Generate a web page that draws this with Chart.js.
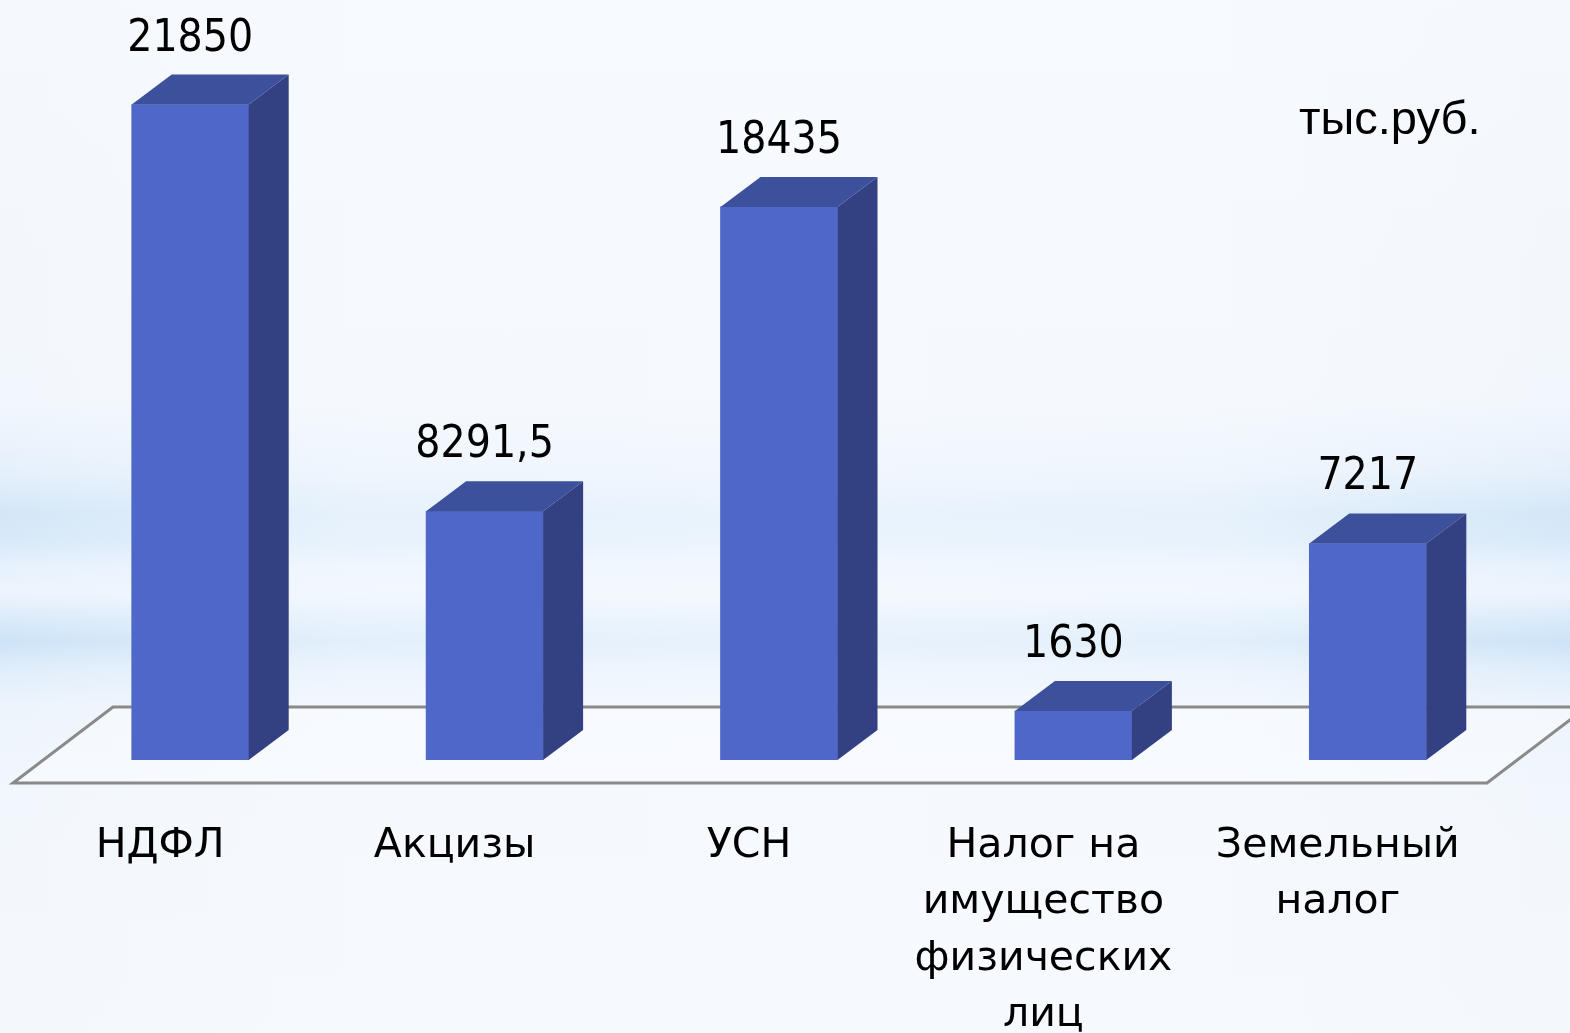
<!DOCTYPE html>
<html>
<head>
<meta charset="utf-8">
<script src="https://cdn.jsdelivr.net/npm/chart.js@4"></script>
<style>
  html, body { margin: 0; padding: 0; width: 1570px; height: 1033px; overflow: hidden; }
  body {
    background:
      linear-gradient(to right, rgba(248,251,255,0) 0%, rgba(248,251,255,0.5) 22%, rgba(248,251,255,0.62) 50%, rgba(248,251,255,0.5) 78%, rgba(248,251,255,0) 100%),
      linear-gradient(to bottom,
        #f5f8fd 0px, #f2f7fd 400px, #e6f0fb 470px, #d4e7f8 512px, #d7e9f9 540px,
        #e8f2fc 568px, #edf4fc 595px, #d9eaf9 620px, #cde3f7 642px, #e0edfa 668px,
        #edf4fc 705px, #f2f7fd 800px, #f4f8fd 1033px);
  }
  #wrap { position: absolute; left: 0; top: 0; width: 1570px; height: 1033px; }
</style>
</head>
<body>
<div id="wrap"><canvas id="c" width="1570" height="1033"></canvas></div>
<script>
const categories = ['НДФЛ', 'Акцизы', 'УСН', ['Налог на', 'имущество', 'физических', 'лиц'], ['Земельный', 'налог']];
const values = [21850, 8291.5, 18435, 1630, 7217];
const valueLabels = ['21850', '8291,5', '18435', '1630', '7217'];
const unitLabel = 'тыс.руб.';

const FRONT = '#4e67c8';
const TOP = '#3c509b';
const SIDE = '#334081';
const DX = 40, DY = 30;

const floorPlugin = {
  id: 'floor',
  beforeDatasetsDraw(chart) {
    const ctx = chart.ctx, a = chart.chartArea;
    const base = chart.scales.y.getPixelForValue(0);
    const fy = base + 23, by = base - 53;
    const fl = a.left - 30, fr = a.right - 28;
    ctx.save();
    ctx.beginPath();
    ctx.moveTo(fl, fy);
    ctx.lineTo(fr, fy);
    ctx.lineTo(fr + 100, by);
    ctx.lineTo(fl + 100, by);
    ctx.closePath();
    ctx.fillStyle = 'rgba(250,252,255,0.55)';
    ctx.fill();
    ctx.strokeStyle = '#8a8a8a';
    ctx.lineWidth = 3;
    ctx.lineJoin = 'miter';
    ctx.stroke();
    ctx.restore();
  },
  afterDatasetsDraw(chart) {
    const ctx = chart.ctx;
    const meta = chart.getDatasetMeta(0);
    ctx.save();
    meta.data.forEach((bar, i) => {
      const p = bar.getProps(['x', 'y', 'base', 'width'], true);
      const l = p.x - p.width / 2, r = p.x + p.width / 2, t = p.y, b = p.base;
      ctx.beginPath();
      ctx.moveTo(l, t); ctx.lineTo(l + DX, t - DY); ctx.lineTo(r + DX, t - DY); ctx.lineTo(r, t); ctx.closePath();
      ctx.fillStyle = TOP; ctx.fill();
      ctx.beginPath();
      ctx.moveTo(r, t); ctx.lineTo(r + DX, t - DY); ctx.lineTo(r + DX, b - DY); ctx.lineTo(r, b); ctx.closePath();
      ctx.fillStyle = SIDE; ctx.fill();
      ctx.fillStyle = '#000';
      ctx.font = '44px "DejaVu Sans Condensed", "DejaVu Sans", sans-serif';
      ctx.textAlign = 'center';
      ctx.textBaseline = 'alphabetic';
      ctx.fillText(valueLabels[i], p.x, t - 54);
    });
    ctx.font = '47px "Liberation Sans", Arial, sans-serif';
    ctx.textAlign = 'left';
    ctx.fillText(unitLabel, 1299, 134);
    ctx.restore();
  }
};

new Chart(document.getElementById('c'), {
  type: 'bar',
  data: {
    labels: categories,
    datasets: [{
      data: values,
      backgroundColor: FRONT,
      borderWidth: 0,
      barThickness: 117
    }]
  },
  options: {
    responsive: false,
    animation: false,
    events: [],
    layout: { padding: { left: 43, right: 55, top: 40, bottom: 0 } },
    plugins: { legend: { display: false }, tooltip: { enabled: false } },
    scales: {
      x: {
        grid: { display: false, drawTicks: false },
        border: { display: false },
        ticks: {
          color: '#000',
          font: { family: '"DejaVu Sans", sans-serif', size: 41, lineHeight: '56.5px' },
          padding: 58,
          labelOffset: -30,
          maxRotation: 0,
          autoSkip: false
        },
        afterFit(scale) { scale.height = 273; }
      },
      y: {
        display: false,
        min: 0,
        max: 24000
      }
    }
  },
  plugins: [floorPlugin]
});
</script>
</body>
</html>
